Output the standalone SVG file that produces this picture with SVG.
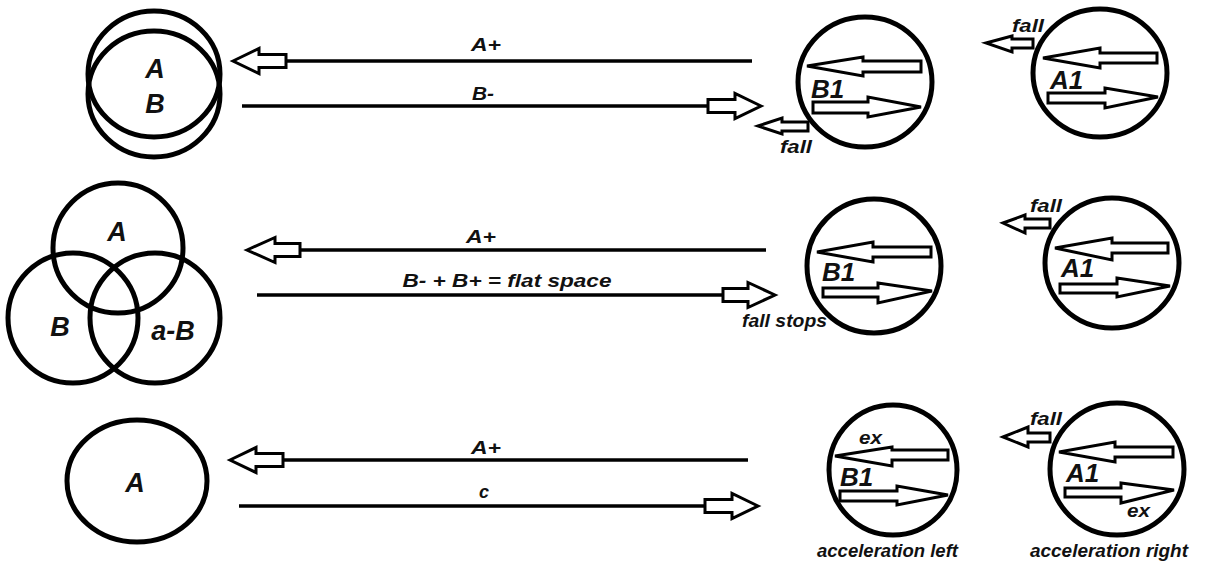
<svg xmlns="http://www.w3.org/2000/svg" width="1208" height="573" viewBox="0 0 1208 573">
  <style>
    .ring { fill: none; stroke: #000; stroke-width: 5; }
    .wire { fill: none; stroke: #000; stroke-width: 3.5; }
    .hollow { fill: #fff; stroke: #000; stroke-width: 3; stroke-linejoin: miter; }
    .inner { fill: #fff; stroke: #000; stroke-width: 3; stroke-linejoin: miter; }
    text { font-family: "Liberation Sans", Arial, sans-serif; font-weight: bold; font-style: italic; fill: #111; }
    .big { font-size: 27px; }
    .id { font-size: 26px; }
    .lbl { font-size: 18px; }
    .small { font-size: 18px; }
  </style>
  <rect width="1208" height="573" fill="#fff"/>

  <!-- left-hand set diagrams -->
  <g id="set-ab">
    <ellipse class="ring" cx="154" cy="74" rx="66" ry="63"/>
    <ellipse class="ring" cx="154" cy="94" rx="66" ry="63"/>
    <text class="big" x="155" y="78" text-anchor="middle">A</text>
    <text class="big" x="155" y="113" text-anchor="middle">B</text>
  </g>

  <g id="set-venn">
    <circle class="ring" cx="118" cy="248" r="65"/>
    <circle class="ring" cx="73" cy="318" r="65"/>
    <circle class="ring" cx="155" cy="318" r="65"/>
    <text class="big" x="117" y="241" text-anchor="middle">A</text>
    <text class="big" x="60" y="336" text-anchor="middle">B</text>
    <text class="big" x="173" y="340" text-anchor="middle">a-B</text>
  </g>

  <g id="set-a">
    <ellipse class="ring" cx="137" cy="481" rx="70" ry="61"/>
    <text class="big" x="135" y="492" text-anchor="middle">A</text>
  </g>

  <!-- connectors between left sets and the B1 discs -->
  <g id="connectors">
    <!-- row 1 -->
    <line class="wire" x1="286" y1="61" x2="752" y2="61"/>
    <polygon class="hollow" points="233,61 259,48.5 259,54.5 286,54.5 286,67.5 259,67.5 259,73.5"/>
    <text class="lbl" x="486" y="51" text-anchor="middle" textLength="30" lengthAdjust="spacingAndGlyphs">A+</text>
    <line class="wire" x1="242" y1="106" x2="708" y2="106"/>
    <polygon class="hollow" points="761,106 735,93.5 735,99.5 708,99.5 708,112.5 735,112.5 735,118.5"/>
    <text class="lbl" x="483" y="100" text-anchor="middle" textLength="22" lengthAdjust="spacingAndGlyphs">B-</text>

    <!-- row 2 -->
    <line class="wire" x1="300" y1="250" x2="766" y2="250"/>
    <polygon class="hollow" points="247,250 275,237.5 275,243.5 300,243.5 300,256.5 275,256.5 275,262.5"/>
    <text class="lbl" x="481" y="243" text-anchor="middle" textLength="30" lengthAdjust="spacingAndGlyphs">A+</text>
    <line class="wire" x1="257" y1="295" x2="723" y2="295"/>
    <polygon class="hollow" points="775,295 748,282.5 748,288.5 723,288.5 723,301.5 748,301.5 748,307.5"/>
    <text class="lbl" x="507" y="287" text-anchor="middle" textLength="209" lengthAdjust="spacingAndGlyphs">B- + B+ = flat space</text>

    <!-- row 3 -->
    <line class="wire" x1="283" y1="460" x2="748" y2="460"/>
    <polygon class="hollow" points="230,460 256,447.5 256,453.5 283,453.5 283,466.5 256,466.5 256,472.5"/>
    <text class="lbl" x="486" y="454" text-anchor="middle" textLength="30" lengthAdjust="spacingAndGlyphs">A+</text>
    <line class="wire" x1="239" y1="506" x2="705" y2="506"/>
    <polygon class="hollow" points="758,506 732,493.5 732,499.5 705,499.5 705,512.5 732,512.5 732,518.5"/>
    <text class="lbl" x="484" y="498" text-anchor="middle">c</text>
  </g>

  <!-- row 1 discs -->
  <g id="b1-top">
    <ellipse class="ring" cx="865" cy="82" rx="67" ry="65"/>
    <polygon class="inner" points="807,66 863,57 863,61 921,61 921,72 863,72 863,76"/>
    <polygon class="inner" points="921,107 868,97 868,102 813,102 813,113 868,113 868,117"/>
    <text class="id" x="811" y="98">B1</text>
    <polygon class="hollow" points="758,126 782,118 782,122 808,122 808,131 782,131 782,134"/>
    <text class="small" x="780" y="153" textLength="32" lengthAdjust="spacingAndGlyphs">fall</text>
  </g>

  <g id="a1-top">
    <ellipse class="ring" cx="1100" cy="73" rx="67" ry="64"/>
    <polygon class="inner" points="1043,58 1100,48 1100,53 1157,53 1157,63 1100,63 1100,68"/>
    <polygon class="inner" points="1158,97 1105,88 1105,93 1048,93 1048,103 1105,103 1105,108"/>
    <text class="id" x="1050" y="89">A1</text>
    <polygon class="hollow" points="986,43 1012,36 1012,39 1033,39 1033,48 1012,48 1012,52"/>
    <text class="small" x="1012" y="32" textLength="32" lengthAdjust="spacingAndGlyphs">fall</text>
  </g>

  <!-- row 2 discs -->
  <g id="b1-mid">
    <ellipse class="ring" cx="874" cy="266" rx="67" ry="67"/>
    <polygon class="inner" points="817,252 873,242 873,247 931,247 931,257 873,257 873,262"/>
    <polygon class="inner" points="932,291 878,283 878,288 823,288 823,297 878,297 878,303"/>
    <text class="id" x="822" y="281">B1</text>
    <text class="small" x="742" y="327" textLength="85" lengthAdjust="spacingAndGlyphs">fall stops</text>
  </g>

  <g id="a1-mid">
    <ellipse class="ring" cx="1112" cy="263" rx="67" ry="65"/>
    <polygon class="inner" points="1055,248 1112,238 1112,243 1168,243 1168,253 1112,253 1112,260"/>
    <polygon class="inner" points="1170,286 1117,278 1117,284 1060,284 1060,293 1117,293 1117,297"/>
    <text class="id" x="1061" y="277">A1</text>
    <polygon class="hollow" points="1003,223 1025,215 1025,219 1050,219 1050,228 1025,228 1025,233"/>
    <text class="small" x="1030" y="212" textLength="32" lengthAdjust="spacingAndGlyphs">fall</text>
  </g>

  <!-- row 3 discs -->
  <g id="b1-low">
    <ellipse class="ring" cx="893" cy="470" rx="64" ry="65"/>
    <polygon class="inner" points="835,456 892,447 892,450 948,450 948,460 892,460 892,466"/>
    <polygon class="inner" points="948,495 897,486 897,491 840,491 840,501 897,501 897,505"/>
    <text class="small" x="859" y="444" textLength="23" lengthAdjust="spacingAndGlyphs">ex</text>
    <text class="id" x="840" y="486">B1</text>
    <text class="small" x="817" y="557" textLength="141" lengthAdjust="spacingAndGlyphs">acceleration left</text>
  </g>

  <g id="a1-low">
    <ellipse class="ring" cx="1117" cy="469" rx="67" ry="66"/>
    <polygon class="inner" points="1059,452 1115,442 1115,447 1173,447 1173,457 1115,457 1115,462"/>
    <polygon class="inner" points="1174,490 1121,483 1121,488 1065,488 1065,497 1121,497 1121,503"/>
    <text class="id" x="1066" y="482">A1</text>
    <text class="small" x="1127" y="517" textLength="23" lengthAdjust="spacingAndGlyphs">ex</text>
    <polygon class="hollow" points="1003,437 1028,427 1028,433 1050,433 1050,442 1028,442 1028,447"/>
    <text class="small" x="1030" y="425" textLength="32" lengthAdjust="spacingAndGlyphs">fall</text>
    <text class="small" x="1030" y="557" textLength="158" lengthAdjust="spacingAndGlyphs">acceleration right</text>
  </g>
</svg>
